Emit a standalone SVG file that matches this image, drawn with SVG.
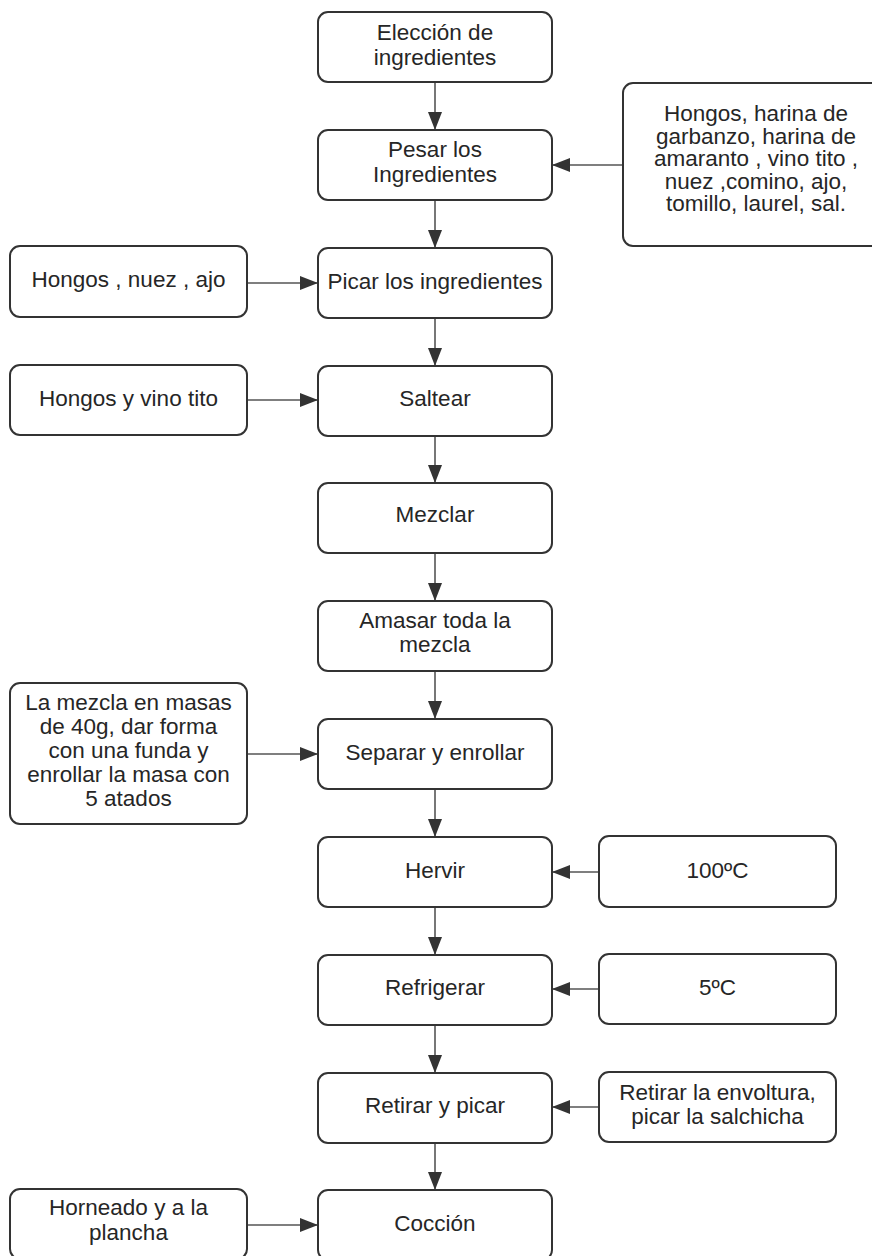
<svg xmlns="http://www.w3.org/2000/svg" width="872" height="1256" viewBox="0 0 872 1256">
<defs>
<style>
.box{fill:#fff;stroke:#333;stroke-width:2}
.t{font-family:"Liberation Sans",Arial,sans-serif;font-size:22.5px;fill:#262626;text-anchor:middle}
.c{fill:none;stroke:#555;stroke-width:1.6}
</style>
<marker id="ah" markerUnits="userSpaceOnUse" markerWidth="20" markerHeight="16" refX="18" refY="7" orient="auto">
<path d="M0,0 L18,7 L0,14 Z" fill="#333"/>
</marker>
</defs>
<rect width="872" height="1256" fill="#fff"/>
<g id="connectors">
<line class="c" x1="435" y1="82" x2="435" y2="130" marker-end="url(#ah)"/>
<line class="c" x1="623" y1="165" x2="552" y2="165" marker-end="url(#ah)"/>
<line class="c" x1="435" y1="200" x2="435" y2="248" marker-end="url(#ah)"/>
<line class="c" x1="247" y1="283" x2="318" y2="283" marker-end="url(#ah)"/>
<line class="c" x1="435" y1="318" x2="435" y2="366" marker-end="url(#ah)"/>
<line class="c" x1="247" y1="400" x2="318" y2="400" marker-end="url(#ah)"/>
<line class="c" x1="435" y1="436" x2="435" y2="483" marker-end="url(#ah)"/>
<line class="c" x1="435" y1="553" x2="435" y2="601" marker-end="url(#ah)"/>
<line class="c" x1="435" y1="671" x2="435" y2="719" marker-end="url(#ah)"/>
<line class="c" x1="247" y1="754" x2="318" y2="754" marker-end="url(#ah)"/>
<line class="c" x1="435" y1="789" x2="435" y2="837" marker-end="url(#ah)"/>
<line class="c" x1="599" y1="872" x2="552" y2="872" marker-end="url(#ah)"/>
<line class="c" x1="435" y1="907" x2="435" y2="955" marker-end="url(#ah)"/>
<line class="c" x1="599" y1="989" x2="552" y2="989" marker-end="url(#ah)"/>
<line class="c" x1="435" y1="1025" x2="435" y2="1073" marker-end="url(#ah)"/>
<line class="c" x1="599" y1="1107" x2="552" y2="1107" marker-end="url(#ah)"/>
<line class="c" x1="435" y1="1143" x2="435" y2="1190" marker-end="url(#ah)"/>
<line class="c" x1="247" y1="1225" x2="318" y2="1225" marker-end="url(#ah)"/>
</g>
<g id="n1"><rect class="box" x="318" y="12" width="234" height="70" rx="10"/><text class="t" x="435" y="40">Elección de</text><text class="t" x="435" y="65">ingredientes</text></g>
<g id="n2"><rect class="box" x="318" y="130" width="234" height="70" rx="10"/><text class="t" x="435" y="157">Pesar los</text><text class="t" x="435" y="182">Ingredientes</text></g>
<g id="n_ing"><rect class="box" x="623" y="83" width="266" height="163" rx="10"/><text class="t" x="756" y="121">Hongos, harina de</text><text class="t" x="756" y="143.5">garbanzo, harina de</text><text class="t" x="756" y="166">amaranto , vino tito ,</text><text class="t" x="756" y="188.5">nuez ,comino, ajo,</text><text class="t" x="756" y="211">tomillo, laurel, sal.</text></g>
<g id="n3"><rect class="box" x="318" y="248" width="234" height="70" rx="10"/><text class="t" x="435" y="289">Picar los ingredientes</text></g>
<g id="n_hna"><rect class="box" x="10" y="246" width="237" height="71" rx="10"/><text class="t" x="128.5" y="287">Hongos , nuez , ajo</text></g>
<g id="n4"><rect class="box" x="318" y="366" width="234" height="70" rx="10"/><text class="t" x="435" y="406">Saltear</text></g>
<g id="n_hv"><rect class="box" x="10" y="365" width="237" height="70" rx="10"/><text class="t" x="128.5" y="406">Hongos y vino tito</text></g>
<g id="n5"><rect class="box" x="318" y="483" width="234" height="70" rx="10"/><text class="t" x="435" y="522">Mezclar</text></g>
<g id="n6"><rect class="box" x="318" y="601" width="234" height="70" rx="10"/><text class="t" x="435" y="628">Amasar toda la</text><text class="t" x="435" y="652">mezcla</text></g>
<g id="n7"><rect class="box" x="318" y="719" width="234" height="70" rx="10"/><text class="t" x="435" y="760">Separar y enrollar</text></g>
<g id="n_mez"><rect class="box" x="10" y="683" width="237" height="141" rx="10"/><text class="t" x="128.5" y="709.5">La mezcla en masas</text><text class="t" x="128.5" y="733.5">de 40g, dar forma</text><text class="t" x="128.5" y="757.5">con una funda y</text><text class="t" x="128.5" y="781.5">enrollar la masa con</text><text class="t" x="128.5" y="806">5 atados</text></g>
<g id="n8"><rect class="box" x="318" y="837" width="234" height="70" rx="10"/><text class="t" x="435" y="878">Hervir</text></g>
<g id="n_100"><rect class="box" x="599" y="836" width="237" height="71" rx="10"/><text class="t" x="717.5" y="878">100ºC</text></g>
<g id="n9"><rect class="box" x="318" y="955" width="234" height="70" rx="10"/><text class="t" x="435" y="995">Refrigerar</text></g>
<g id="n_5"><rect class="box" x="599" y="954" width="237" height="70" rx="10"/><text class="t" x="717.5" y="995">5ºC</text></g>
<g id="n10"><rect class="box" x="318" y="1073" width="234" height="70" rx="10"/><text class="t" x="435" y="1113">Retirar y picar</text></g>
<g id="n_ret"><rect class="box" x="599" y="1072" width="237" height="70" rx="10"/><text class="t" x="717.5" y="1099.5">Retirar la envoltura,</text><text class="t" x="717.5" y="1123.5">picar la salchicha</text></g>
<g id="n11"><rect class="box" x="318" y="1190" width="234" height="70" rx="10"/><text class="t" x="435" y="1231">Cocción</text></g>
<g id="n_horn"><rect class="box" x="10" y="1189" width="237" height="70" rx="10"/><text class="t" x="128.5" y="1215">Horneado y a la</text><text class="t" x="128.5" y="1240">plancha</text></g>
</svg>
